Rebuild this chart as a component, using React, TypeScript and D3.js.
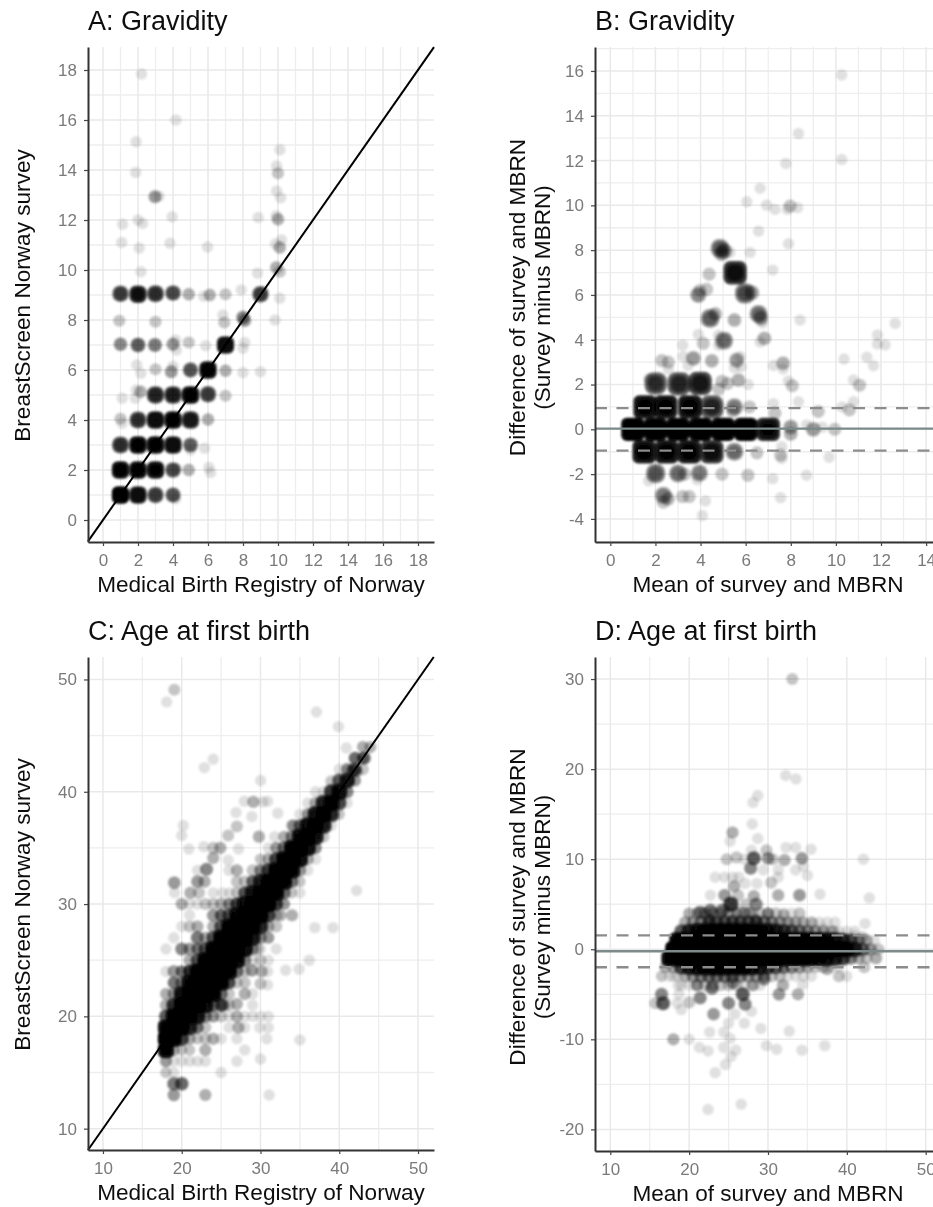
import React, { useEffect, useRef } from 'react';
import * as d3 from 'd3';

type Pt = [number, number, number];

// A: gravidity, registry (x) against survey (y), last field is how many women overlap there
const gravidityAgreement: Pt[] = [
    [2.2, 17.84, 1], [4.17, 16, 1], [1.89, 15.13, 1], [1.87, 13.9, 1], [2.97, 12.93, 4], [3.2, 12.95, 1],
    [3.95, 12.13, 1], [1.12, 11.83, 1], [2, 12, 1], [2.26, 11.86, 1], [1.07, 11.1, 1], [2.07, 10.88, 1],
    [3.83, 11.07, 1], [5.97, 10.92, 1], [2.17, 9.93, 1], [8.87, 12.1, 1], [10.11, 14.81, 1], [9.92, 14.16, 1],
    [10, 13.87, 2], [9.92, 13.16, 1], [10.15, 12.89, 1], [9.9, 12.17, 1], [10, 12.03, 3], [10.2, 11.2, 1],
    [9.85, 11.04, 1], [10.1, 10.9, 3], [9.9, 10.1, 3], [10.1, 9.93, 2], [8.83, 9.87, 1],
    [1, 9.05, 12], [2, 9.03, 22], [3, 9.05, 14], [4, 9.08, 10], [4.9, 9.03, 3], [5.75, 8.95, 1], [6.1, 9, 3],
    [7, 9.03, 2], [7.9, 9.2, 1], [9, 9.03, 12], [10.1, 8.87, 1],
    [0.93, 7.97, 2], [3, 7.93, 2], [6.85, 8.2, 1], [6.93, 7.9, 2], [8, 8.1, 5], [8.1, 7.98, 4], [9.83, 8, 1],
    [1, 7.03, 5], [2, 7, 8], [2.97, 7, 6], [4, 7.03, 4], [4.2, 6.8, 1], [4.15, 7.2, 1], [4.9, 7.1, 2],
    [5.87, 6.97, 1], [7, 7, 28], [8.1, 7.1, 1], [8, 6.87, 1],
    [1.93, 6.2, 1], [2.17, 5.87, 1], [3, 6.03, 2], [3.9, 5.93, 4], [4, 6.15, 1], [5, 6, 9], [6, 6, 34],
    [7, 5.97, 3], [8, 5.9, 1], [9, 5.93, 1],
    [1.1, 4.87, 1], [1.85, 4.87, 1], [1.9, 5.2, 1], [2.15, 5.13, 3], [3, 5, 16], [4, 5, 18], [5, 5, 34],
    [6, 5.03, 12], [7, 4.97, 2],
    [1, 4.05, 2], [1.1, 3.87, 1], [2, 4, 14], [3, 4, 28], [4, 4, 34], [5, 4, 20], [6, 4.02, 3],
    [1, 3, 14], [2, 3, 34], [3, 3, 34], [4, 3, 26], [5, 3, 8], [5, 2.8, 1], [5.8, 2.87, 1],
    [1, 2, 34], [2, 2, 34], [3, 2, 30], [4, 2, 10], [4.2, 2.05, 1], [4.9, 2, 3], [6.05, 2.1, 1], [6.15, 1.9, 1],
    [1, 1, 60], [2, 1, 26], [3, 1, 12], [4, 1, 9], [4.15, 0.85, 1],
];

// B: gravidity, mean (x) against difference (y)
const gravidityDifference: Pt[] = [
    [10.26, 15.82, 1], [8.34, 13.21, 1], [10.26, 12.05, 1], [7.78, 11.87, 1], [6.64, 10.76, 1], [6.05, 10.16, 1],
    [6.93, 10.01, 1], [7.3, 9.82, 1], [7.85, 9.82, 1], [7.97, 9.97, 2], [8.3, 9.9, 1], [6.57, 8.85, 1],
    [7.9, 8.29, 1], [6.2, 7.9, 1], [7.2, 7.11, 1], [4.38, 6.93, 2],
    [4.86, 8.08, 8], [5.04, 7.97, 5], [5.3, 7.9, 1], [4.93, 7.85, 4], [5.53, 6.99, 24],
    [3.9, 6, 5], [4.27, 6.25, 2], [3.97, 6.2, 2], [5.97, 6.07, 10], [6.27, 6.1, 4],
    [4.42, 4.95, 8], [4.65, 5.15, 3], [6.57, 5.15, 7], [6.67, 4.97, 4], [6.75, 4.75, 1], [5.5, 4.88, 3],
    [8.41, 4.88, 1], [12.63, 4.73, 1], [3.9, 4.24, 1], [11.84, 4.21, 1], [11.84, 3.81, 1], [12.18, 3.77, 1],
    [6.83, 4.06, 3], [6.64, 3.9, 1], [4.12, 3.84, 2], [5.04, 3.96, 7], [4.8, 4.2, 1], [4.8, 3.75, 1],
    [3.21, 3.76, 1], [3.22, 3.25, 1], [3.68, 3.17, 4], [3.45, 2.85, 1], [4.5, 3.06, 3], [5.6, 3.09, 4],
    [5.75, 3.25, 1], [5.8, 2.8, 1], [5.5, 2.75, 1], [10.36, 3.14, 1], [11.37, 3.22, 1], [11.67, 2.84, 1],
    [7.23, 2.85, 1], [7.66, 2.95, 3], [7.66, 2.7, 1], [2.28, 3.07, 2], [2.57, 3, 2], [2.57, 2.7, 1],
    [2.01, 2.05, 14], [1.7, 2.25, 1], [3.05, 2.03, 16], [3.98, 2.05, 20], [4.95, 2.15, 2], [4.8, 1.8, 2],
    [5.2, 2.05, 2], [5.68, 2.2, 3], [6.11, 2, 1], [7.89, 2.16, 1], [8.07, 1.95, 2], [10.78, 2.2, 1],
    [11.05, 1.97, 2], [8.34, 1.23, 1], [7.23, 1.15, 1], [7.3, 0.72, 2], [10.78, 1.23, 1], [10.27, 1, 1],
    [10.6, 0.87, 2], [9.22, 0.8, 2],
    [1.54, 1, 34], [2.45, 1, 34], [3.53, 1, 34], [4.5, 1, 16], [5.5, 1, 6], [6.17, 1, 2], [5.43, 0.8, 2],
    [1, 0, 60], [2, 0, 60], [3, 0, 60], [4, 0, 60], [5, 0, 60], [6, 0, 60], [7, 0, 30],
    [8, 0.1, 4], [8, -0.2, 3], [9, 0, 4], [8.7, 0.2, 1], [9.4, 0.1, 1], [9.95, 0, 2],
    [1.5, -1, 34], [2.5, -1, 34], [3.5, -1, 34], [4.5, -1, 24], [5.5, -1, 7], [6.5, -1.05, 2],
    [7.6, -0.78, 1], [7.55, -1.15, 2], [7.6, -1.3, 1], [9.7, -1.25, 1],
    [2.01, -1.97, 9], [1.7, -2.3, 1], [3, -1.97, 7], [3.3, -2, 2], [3.95, -1.95, 6], [3.85, -2.25, 1],
    [4.95, -2, 2], [6.1, -2.05, 2], [7.2, -2.2, 1], [8.7, -2.05, 1],
    [2.35, -2.95, 6], [2.55, -3.1, 3], [2.35, -3.25, 2], [3.2, -3, 2], [3.5, -3, 2], [4.22, -3.2, 1],
    [7.55, -3.05, 1], [4.08, -3.85, 1],
];

// C and D share the dense band along the diagonal: one row per registry age,
// columns are survey age minus registry age
const bandAges = d3.range(18, 45);
const bandOffsets = [-4, -3, -2, -1, 0, 1, 2, 3, 4];
const bandCounts = [
    [0, 1, 3, 30, 70, 30, 8, 3, 1],
    [0, 1, 3, 30, 70, 40, 12, 4, 2],
    [0, 1, 10, 40, 70, 50, 20, 5, 3],
    [1, 3, 14, 50, 80, 50, 26, 6, 3],
    [1, 4, 18, 50, 80, 50, 30, 8, 3],
    [2, 5, 24, 50, 80, 50, 30, 8, 3],
    [2, 6, 30, 50, 90, 50, 30, 8, 3],
    [2, 6, 30, 50, 90, 50, 30, 8, 3],
    [2, 6, 30, 50, 90, 50, 26, 8, 2],
    [2, 6, 26, 50, 90, 50, 24, 7, 2],
    [2, 5, 24, 50, 90, 50, 22, 6, 2],
    [1, 4, 18, 40, 90, 50, 18, 5, 2],
    [1, 4, 14, 40, 80, 40, 14, 4, 1],
    [1, 3, 10, 36, 70, 36, 10, 3, 1],
    [0, 2, 8, 30, 60, 30, 8, 3, 0],
    [0, 2, 6, 30, 60, 30, 6, 2, 0],
    [0, 1, 5, 30, 60, 30, 5, 2, 0],
    [0, 1, 4, 26, 50, 26, 4, 1, 0],
    [0, 1, 3, 24, 50, 24, 3, 1, 0],
    [0, 1, 2, 20, 40, 20, 2, 1, 0],
    [0, 0, 2, 18, 40, 16, 1, 0, 0],
    [0, 0, 1, 14, 30, 12, 1, 0, 0],
    [0, 0, 1, 10, 24, 8, 1, 0, 0],
    [0, 0, 0, 5, 14, 4, 0, 0, 0],
    [0, 0, 0, 3, 7, 3, 0, 0, 0],
    [0, 0, 0, 2, 4, 1, 0, 0, 0],
    [0, 0, 0, 0, 2, 0, 0, 0, 0],
];

// C: points away from the band
const ageAgreement: Pt[] = [
    [19.06, 49.09, 2], [18.09, 48, 1], [37.1, 47.1, 1], [39.9, 45.8, 1], [40.9, 43.9, 1], [24, 42.9, 1],
    [22.87, 42.15, 1], [30.02, 41, 1], [29.1, 39.1, 3], [27.95, 39.15, 1], [30.3, 39.1, 1], [30.9, 39.15, 1],
    [26.9, 38.15, 1], [28.9, 37.8, 1], [32.2, 38.1, 1], [20.2, 37, 1], [20, 36.1, 1], [27, 36.9, 2],
    [25.9, 36.1, 2], [29.8, 36, 3], [31.8, 36, 1], [33, 36, 1], [20.9, 34.9, 1], [22.8, 35.1, 1], [24, 35, 2],
    [24.9, 35, 3], [27.2, 34.9, 1], [24, 34.1, 3], [25.9, 33.9, 1], [23.15, 33.1, 5], [22, 33, 1], [27, 33, 3],
    [26, 33, 1], [30, 34, 1], [30, 33, 1], [31.8, 34, 2], [32, 35, 1], [19.06, 31.9, 4], [22, 32, 4],
    [22.9, 32, 3], [27, 32, 2], [35, 32, 1], [34, 32, 1], [42.2, 31.2, 1], [19.1, 31, 1], [21.1, 31, 3],
    [22.2, 31, 2], [24, 31, 1], [25.2, 31, 1], [26.1, 31, 1], [35, 31, 1], [33.9, 31, 1], [20, 30, 3], [21, 30, 1],
    [24, 30, 2], [25, 30, 3], [26, 30, 3], [27, 30, 3], [33, 30, 2], [32, 30, 3],
    [43, 44, 2], [43.8, 43.9, 1], [42, 43, 4], [43.2, 43, 5], [41.1, 42, 1], [41.7, 41.9, 5], [42.2, 41.8, 3],
    [41.2, 41, 4], [42, 41, 1], [38.9, 40.9, 1], [41, 39, 1], [40, 38, 1], [36.9, 39, 1], [36, 38, 1],
    [34.2, 37, 3], [35, 37, 2], [37, 35, 3],
    [36.9, 27.9, 1], [39.2, 27.9, 1], [36.2, 25, 1], [34.9, 24.2, 1], [33.2, 24.1, 1], [30.9, 24, 1], [30.15, 24, 3],
    [28.9, 24.1, 4], [28, 23, 2], [30.9, 22.8, 1], [30, 22.9, 2], [29, 22, 1], [28, 22, 3], [27, 21.1, 3],
    [25.3, 21, 4], [29, 21, 1], [27, 20, 3], [29, 20, 1], [30, 20, 1], [31, 20, 1], [27.2, 19, 3], [26, 19, 1],
    [29.9, 19, 1], [31, 19, 1], [24, 18, 3], [27, 18, 1], [30.8, 18, 1], [35, 17.9, 1], [23, 17, 3], [28, 17, 1],
    [27, 16, 1], [30, 16.2, 1], [18, 16, 1], [20, 16, 1], [21, 16, 1], [22, 16, 1], [23, 16, 1], [18, 15, 1],
    [19, 15, 1], [25, 15, 1], [19, 14, 6], [20, 14, 7], [19, 13, 4], [23, 13, 3], [31.1, 13, 1],
    [18, 26, 1], [20, 26, 5], [21, 26, 4], [22, 26, 3], [19, 27, 1], [22, 27, 6], [20, 28, 1], [21, 28, 2],
    [22, 28, 3], [18, 24, 1], [19, 24, 4], [20, 24, 3], [21, 24, 6], [19, 23, 4], [18, 22, 2], [21, 29, 1],
    [24, 29, 4], [25, 29, 4], [32, 28, 2], [31, 27, 3], [29.6, 26, 2], [30, 25, 2], [34, 29, 3], [32.5, 29, 3],
    [26, 23, 3], [25, 21, 6], [24, 20, 2], [22, 18, 1], [21, 17, 1], [20, 17, 1], [22, 19, 2],
    [23, 30, 2], [22, 30, 1], [28, 31, 2], [29, 32, 2], [30, 32, 1], [31, 30, 2], [31, 25, 1], [32, 26, 1],
    [28, 20, 1], [26, 21, 2], [25, 20, 2], [26, 20, 1], [23, 18, 2], [25, 18, 1], [28, 19, 1],
];

// D: points away from the band
const ageDifference: Pt[] = [
    [33.08, 30, 2], [32.24, 19.3, 1], [33.55, 18.9, 1], [28.7, 17.08, 1], [28.1, 16.3, 1], [28, 13.9, 1],
    [25.5, 12.97, 3], [25.2, 12, 1], [28.7, 12.3, 1], [32.28, 11.3, 1], [33.5, 11.3, 1], [35.46, 11.1, 1],
    [27.9, 11, 1], [29.8, 11, 2], [24.76, 10, 2], [26, 10.2, 2], [28.2, 10.1, 8], [27, 10, 1], [30, 10.1, 4],
    [30.6, 10, 2], [32.1, 9.9, 3], [34.3, 10.1, 4], [42.1, 10, 1], [27.8, 9, 5], [29.4, 8.8, 1], [31.3, 8.8, 1],
    [34.5, 9.2, 1], [33.5, 8.8, 1], [23.3, 8, 1], [24.5, 8, 1], [25.5, 8, 1], [26.3, 8, 1], [31.3, 8, 1], [35, 8.2, 1],
    [27.1, 7.3, 1], [28.6, 7.3, 1], [30.4, 7.4, 2], [25.7, 7, 3], [22.7, 6, 1], [24.5, 6, 4], [26.2, 6, 2],
    [28.2, 5.9, 3], [31.3, 6, 3], [34, 6, 4], [36.6, 6.1, 1], [42.85, 5.7, 1], [25.3, 5, 12], [22.7, 4.3, 6],
    [28.5, 5, 5], [27.2, 5, 2], [42.3, 2.85, 1], [20, 3.96, 2], [21.4, 4.1, 6], [24.2, 4.3, 6], [26.5, 4.1, 2],
    [27.6, 4, 3], [30, 3.95, 3], [32, 3.8, 2], [34, 4, 2], [25.6, 3.4, 1], [22.6, 3.2, 5], [32.9, 3, 1], [34.4, 3, 1],
    [35.7, 2.9, 1], [28.5, 3.2, 4], [37, 2.3, 1], [38.3, 2, 2], [41, 1.5, 1], [42, 1.3, 2],
    [16.5, -3, 1], [18, -3, 1], [16.5, -5, 5], [15.7, -6, 2], [16.7, -6, 8], [18.7, -5, 1], [18.5, -6, 1],
    [20, -5.9, 2], [19, -6.7, 1], [21.4, -5.4, 5], [22.9, -4.3, 6], [21, -4, 3], [25, -6, 5], [26.8, -5, 8],
    [27.1, -6.1, 5], [27.9, -6.9, 1], [23.1, -7.2, 4], [27, -8.2, 1], [25, -8.2, 1], [25.8, -7.2, 1], [29.1, -8.8, 1],
    [32.7, -9.1, 1], [22.6, -9.2, 1], [24.4, -9.2, 1], [18, -10, 3], [20, -10, 1], [21.3, -10.9, 1], [22.4, -11.3, 1],
    [24.4, -10.9, 1], [25.9, -11.2, 1], [25.2, -9.9, 1], [25.3, -11.9, 1], [24.6, -12.8, 1], [23.3, -13.7, 1],
    [29.8, -10.7, 1], [31.1, -11.1, 1], [34.3, -11.2, 1], [37.2, -10.7, 1], [22.4, -17.8, 1], [26.6, -17.2, 1],
    [29.5, -3.3, 5], [31.4, -5, 4], [33.8, -5, 3], [31.9, -4, 3], [34.4, -3.9, 1], [28.1, -4, 3], [25.5, -3.7, 4],
    [18.6, -4, 1], [39, -3, 2], [40, -3, 1], [37.5, -2.2, 3], [42.2, -2, 2], [43.7, -1, 3],
];

const bandCells: Pt[] = bandAges.flatMap((age, i) =>
    bandOffsets.map((offset, j) => [age, age + offset, bandCounts[i][j]] as Pt).filter(d => d[2] > 0));
const bandDifference: Pt[] = bandCells.map(([m, s, n]) => [(m + s) / 2, s - m, n] as Pt);

// mean difference and limits
const gravidityLimits = [-0.95, 0.03, 0.95];
const ageLimits = [-2, -0.22, 1.55];

const gravidityTicks = d3.range(0, 19, 2);
const gravidityMinor = d3.range(-1, 20, 2);
const gravidityDiffTicks = d3.range(-4, 17, 2);
const gravidityDiffMinor = d3.range(-5, 18, 2);
const gravidityMeanTicks = d3.range(0, 15, 2);
const gravidityMeanMinor = d3.range(1, 16, 2);
const ageTicks = [10, 20, 30, 40, 50];
const ageMinor = [15, 25, 35, 45];
const ageDiffTicks = [-20, -10, 0, 10, 20, 30];
const ageDiffMinor = [-15, -5, 5, 15, 25];

const width = 933;
const height = 1207;
const panelWidth = 346;
const pointRadius = 5.7;
const pointAlpha = 0.12;

const panels = [
    {
        title: 'A: Gravidity', xLabel: 'Medical Birth Registry of Norway', yLabel: ['BreastScreen Norway survey'],
        left: 88, top: 47, bottom: 542, xDomain: [-0.857, 18.914], yDomain: [-0.88, 18.92],
        xTicks: gravidityTicks, xMinor: gravidityMinor, yTicks: gravidityTicks, yMinor: gravidityMinor,
        points: gravidityAgreement, spread: 3, diagonal: true, limits: [] as number[],
    },
    {
        title: 'B: Gravidity', xLabel: 'Mean of survey and MBRN', yLabel: ['Difference of survey and MBRN', '(Survey minus MBRN)'],
        left: 595, top: 47, bottom: 542, xDomain: [-0.68, 14.66], yDomain: [-5.03, 17.07],
        xTicks: gravidityMeanTicks, xMinor: gravidityMeanMinor, yTicks: gravidityDiffTicks, yMinor: gravidityDiffMinor,
        points: gravidityDifference, spread: 6, diagonal: false, limits: gravidityLimits,
    },
    {
        title: 'C: Age at first birth', xLabel: 'Medical Birth Registry of Norway', yLabel: ['BreastScreen Norway survey'],
        left: 88, top: 657, bottom: 1150, xDomain: [8.1, 52.03], yDomain: [8.1, 52],
        xTicks: ageTicks, xMinor: ageMinor, yTicks: ageTicks, yMinor: ageMinor,
        points: bandCells.concat(ageAgreement), spread: 2.5, diagonal: true, limits: [] as number[],
    },
    {
        title: 'D: Age at first birth', xLabel: 'Mean of survey and MBRN', yLabel: ['Difference of survey and MBRN', '(Survey minus MBRN)'],
        left: 595, top: 657, bottom: 1151, xDomain: [8.06, 51.94], yDomain: [-22.4, 32.45],
        xTicks: ageTicks, xMinor: ageMinor, yTicks: ageDiffTicks, yMinor: ageDiffMinor,
        points: bandDifference.concat(ageDifference), spread: 2.5, diagonal: false, limits: ageLimits,
    },
];

type Panel = typeof panels[number];

function drawPanel(root: d3.Selection<SVGGElement, unknown, null, undefined>, panel: Panel) {
    const x = d3.scaleLinear().domain(panel.xDomain).range([panel.left, panel.left + panelWidth]);
    const y = d3.scaleLinear().domain(panel.yDomain).range([panel.bottom, panel.top]);
    const g = root.append('g');

    // grid, minor lines under major ones
    const grid = g.append('g');
    const vertical = (values: number[], stroke: string, w: number) => grid.append('g').selectAll('line')
        .data(values.filter(v => x(v) > panel.left && x(v) < panel.left + panelWidth))
        .join('line')
        .attr('x1', d => x(d)).attr('x2', d => x(d))
        .attr('y1', panel.top).attr('y2', panel.bottom)
        .attr('stroke', stroke).attr('stroke-width', w);
    const horizontal = (values: number[], stroke: string, w: number) => grid.append('g').selectAll('line')
        .data(values.filter(v => y(v) > panel.top && y(v) < panel.bottom))
        .join('line')
        .attr('x1', panel.left).attr('x2', panel.left + panelWidth)
        .attr('y1', d => y(d)).attr('y2', d => y(d))
        .attr('stroke', stroke).attr('stroke-width', w);
    vertical(panel.xMinor, '#eeeeee', 1.3);
    horizontal(panel.yMinor, '#eeeeee', 1.3);
    vertical(panel.xTicks, '#e9e9e9', 1.5);
    horizontal(panel.yTicks, '#e9e9e9', 1.5);

    // overlapping women become one shape, wider and darker the more of them there are;
    // small groups stay round, the big ones fill out towards a rounded square
    const spread = d3.scaleSqrt().domain([1, 16]).range([0, panel.spread]).clamp(true);
    const alpha = (n: number) => 1 - Math.pow(1 - pointAlpha, n);
    const layers = panel.points.flatMap(([px, py, n]) => {
        const s = spread(n);
        const round = 1 - Math.min(n, 30) / 30;
        if (n < 3) return [{ px, py, s, a: alpha(n), round }];
        return [
            { px, py, s, a: alpha(n * 0.45), round },
            { px, py, s: s * 0.6, a: alpha(n * 0.3), round },
            { px, py, s: s * 0.25, a: alpha(n * 0.25), round },
        ];
    });
    g.append('g').attr('filter', 'url(#soft)').selectAll('rect')
        .data(layers)
        .join('rect')
        .attr('x', d => x(d.px) - pointRadius - d.s)
        .attr('y', d => y(d.py) - pointRadius - d.s)
        .attr('width', d => 2 * (pointRadius + d.s))
        .attr('height', d => 2 * (pointRadius + d.s))
        .attr('rx', d => pointRadius + d.s * d.round)
        .attr('fill', '#000')
        .attr('fill-opacity', d => d.a);

    if (panel.diagonal) {
        const [lo, hi] = [Math.max(panel.xDomain[0], panel.yDomain[0]), Math.min(panel.xDomain[1], panel.yDomain[1])];
        g.append('line')
            .attr('x1', x(lo)).attr('y1', y(lo)).attr('x2', x(hi)).attr('y2', y(hi))
            .attr('stroke', '#000').attr('stroke-width', 2);
    }
    panel.limits.forEach((value, i) => {
        g.append('line')
            .attr('x1', panel.left).attr('x2', panel.left + panelWidth)
            .attr('y1', y(value)).attr('y2', y(value))
            .attr('stroke', i === 1 ? '#7c8a8a' : '#8c8c8c')
            .attr('stroke-width', 2.3)
            .attr('stroke-dasharray', i === 1 ? null : '12 9.5');
    });

    // axes
    const xAxis = g.append('g').attr('transform', `translate(0,${panel.bottom})`)
        .call(d3.axisBottom(x).tickValues(panel.xTicks).tickFormat(d3.format('d')).tickSize(4).tickSizeOuter(0).tickPadding(8));
    const yAxis = g.append('g').attr('transform', `translate(${panel.left},0)`)
        .call(d3.axisLeft(y).tickValues(panel.yTicks).tickFormat(d => String(d)).tickSize(4).tickSizeOuter(0).tickPadding(7));
    [xAxis, yAxis].forEach(axis => {
        axis.attr('font-family', 'Liberation Sans, Arial, sans-serif').attr('font-size', 17);
        axis.selectAll('.domain').attr('stroke', '#333').attr('stroke-width', 2);
        axis.selectAll('.tick line').attr('stroke', '#444').attr('stroke-width', 1.2);
        axis.selectAll('.tick text').attr('fill', '#7a7a7a');
    });

    // text
    const text = g.append('g').attr('font-family', 'Liberation Sans, Arial, sans-serif').attr('fill', '#111');
    text.append('text')
        .attr('x', panel.left).attr('y', panel.top - 17)
        .attr('font-size', 27)
        .text(panel.title);
    text.append('text')
        .attr('x', panel.left + panelWidth / 2)
        .attr('y', panel.bottom + 50)
        .attr('text-anchor', 'middle')
        .attr('font-size', 22.6)
        .text(panel.xLabel);
    const yCenter = (panel.top + panel.bottom) / 2 + (panel.yLabel.length === 1 ? 1 : 3);
    panel.yLabel.forEach((label, i) => {
        const lineX = panel.yLabel.length === 1 ? panel.left - 58 : panel.left - 70 + i * 25;
        text.append('text')
            .attr('transform', `translate(${lineX},${yCenter}) rotate(-90)`)
            .attr('text-anchor', 'middle')
            .attr('font-size', 22.6)
            .text(label);
    });
}

export default function App() {
    const ref = useRef<SVGSVGElement>(null);

    useEffect(() => {
        const svg = d3.select(ref.current);
        svg.selectAll('*').remove();
        svg.append('defs').append('filter')
            .attr('id', 'soft')
            .attr('filterUnits', 'userSpaceOnUse')
            .attr('x', 0).attr('y', 0).attr('width', width).attr('height', height)
            .append('feGaussianBlur').attr('stdDeviation', 0.9);
        svg.select('defs').append('filter')
            .attr('id', 'scan')
            .attr('filterUnits', 'userSpaceOnUse')
            .attr('x', 0).attr('y', 0).attr('width', width).attr('height', height)
            .append('feGaussianBlur').attr('stdDeviation', 0.45);
        const root = svg.append('g').attr('filter', 'url(#scan)') as any;
        root.append('rect').attr('width', width).attr('height', height).attr('fill', '#fff');
        panels.forEach(panel => drawPanel(root, panel));
    }, []);

    return (
        <svg
            ref={ref}
            width={width}
            height={height}
            style={{ position: 'absolute', left: 0, top: 0, display: 'block' }}
        />
    );
}
